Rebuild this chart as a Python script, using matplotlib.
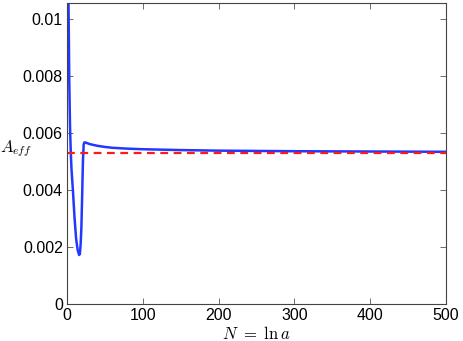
import matplotlib
matplotlib.use('Agg')
import matplotlib.pyplot as plt
import numpy as np

# curve
N = [0, 1, 2, 3, 4, 5, 6, 8, 10, 12, 14, 16, 17, 18, 19, 20, 21, 22, 23, 25,
     30, 40, 50, 60, 80, 100, 150, 200, 250, 300, 400, 500]
A_eff = [0.0200, 0.0140, 0.0105, 0.0078, 0.0062, 0.0053, 0.0047, 0.0039, 0.0030,
         0.0023, 0.0019, 0.00172, 0.00176, 0.0021, 0.0027, 0.0038, 0.0050, 0.0056,
         0.00567, 0.00566, 0.00561, 0.00555, 0.00551, 0.00548, 0.00545, 0.00543,
         0.00540, 0.00538, 0.00537, 0.00536, 0.00535, 0.00534]
A_ref = 0.0053

xticks = [0, 100, 200, 300, 400, 500]
yticks = [0, 0.002, 0.004, 0.006, 0.008, 0.01]
yticklabels = ['0', '0.002', '0.004', '0.006', '0.008', '0.01']

plt.rcParams['mathtext.fontset'] = 'cm'
plt.rcParams['font.family'] = ['Liberation Sans', 'DejaVu Sans']

fig = plt.figure(figsize=(4.63, 3.41), dpi=100)
ax = fig.add_axes([67 / 463, 1 - 304 / 341, 379 / 463, 301 / 341])

ax.plot(N, A_eff, color='#2238ff', lw=1.8)
ax.axhline(A_ref, color='#ff1a1a', lw=1.6, ls=(0, (3.5, 2.5)))

ax.set_xlim(0, 500)
ax.set_ylim(0, 0.01056)
ax.set_xticks(xticks)
ax.set_yticks(yticks)
ax.set_yticklabels(yticklabels)
ax.tick_params(direction='in', top=True, right=True, labelsize=11.5, length=4,
               width=0.6, color='#555555', pad=3)
for s in ax.spines.values():
    s.set_linewidth(0.8)
    s.set_color('#444444')

ax.set_xlabel(r'$N\ =\ \ln a$', fontsize=12, labelpad=1)
ax.set_ylabel(r'$A_{eff}$', fontsize=12, rotation=0, va='center')
ax.yaxis.set_label_coords(-0.135, 0.515)

fig.savefig('out.png', dpi=100)
